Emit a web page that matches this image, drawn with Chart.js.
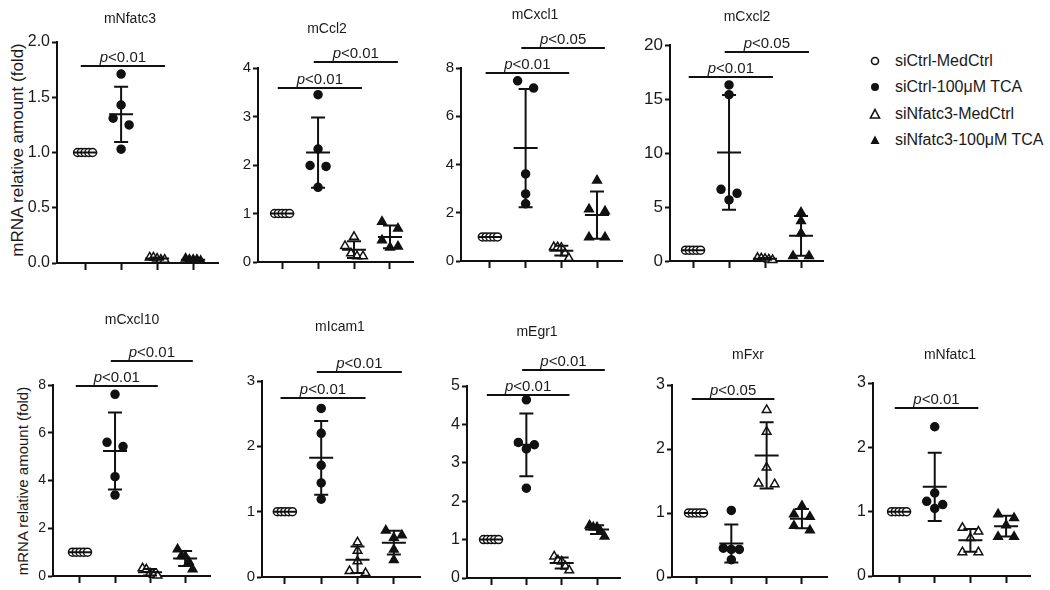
<!DOCTYPE html>
<html>
<head>
<meta charset="utf-8">
<script src="https://cdn.jsdelivr.net/npm/chart.js@4.4.1/dist/chart.umd.min.js"></script>
<style>
    body { margin: 0; background: #fff; width: 1050px; height: 590px; position: relative; overflow: hidden;
           font-family: 'Liberation Sans', Arial, sans-serif; color: #1a1a1a; }
    canvas { position: absolute; }
    .ylab { position: absolute; white-space: nowrap; transform: translate(-50%, -50%) rotate(-90deg); }
    #legend { position: absolute; left: 868px; top: 48px; font-size: 16px; }
    #legend .row { height: 26.3px; display: flex; align-items: center; }
    #legend svg { width: 14px; height: 14px; margin-right: 13px; }
</style>
</head>
<body>

<div class="ylab" style="left:18px; top:150px; font-size:17px;">mRNA relative amount (fold)</div>
<div class="ylab" style="left:22px; top:481px; font-size:15px;">mRNA relative amount (fold)</div>
<div id="legend"></div>

<script>
const FONT = "'Liberation Sans', Arial, sans-serif";

// groups and genes
const groupNames = ['siCtrl-MedCtrl', 'siCtrl-100\u03bcM TCA', 'siNfatc3-MedCtrl', 'siNfatc3-100\u03bcM TCA'];
const genes = ['mNfatc3', 'mCcl2', 'mCxcl1', 'mCxcl2', 'mCxcl10', 'mIcam1', 'mEgr1', 'mFxr', 'mNfatc1'];

// per gene: 5 replicates for each of the 4 groups (fold vs siCtrl-MedCtrl)
const mNfatc3 = [[1, 1, 1, 1, 1], [1.71, 1.43, 1.31, 1.25, 1.03], [0.05, 0.05, 0.04, 0.03, 0.03], [0.04, 0.03, 0.03, 0.03, 0.02]];
const mCcl2   = [[1, 1, 1, 1, 1], [3.45, 2.33, 1.99, 1.97, 1.54], [0.52, 0.33, 0.18, 0.12, 0.12], [0.83, 0.69, 0.45, 0.30, 0.32]];
const mCxcl1  = [[1, 1, 1, 1, 1], [7.47, 7.17, 3.61, 2.78, 2.37], [0.58, 0.57, 0.55, 0.32, 0.12], [3.34, 2.15, 2.06, 0.98, 0.98]];
const mCxcl2  = [[1, 1, 1, 1, 1], [16.3, 15.4, 6.64, 6.27, 5.65], [0.30, 0.25, 0.20, 0.15, 0.10], [4.48, 3.70, 2.56, 0.46, 0.46]];
const mCxcl10 = [[1, 1, 1, 1, 1], [7.61, 5.60, 5.42, 4.16, 3.39], [0.32, 0.28, 0.12, 0.05, 0.02], [1.12, 0.84, 0.84, 0.60, 0.28]];
const mIcam1  = [[1, 1, 1, 1, 1], [2.58, 2.20, 1.71, 1.44, 1.19], [0.53, 0.40, 0.24, 0.06, 0.09], [0.71, 0.64, 0.60, 0.42, 0.26]];
const mEgr1   = [[1, 1, 1, 1, 1], [4.64, 3.53, 3.47, 3.36, 2.34], [0.56, 0.46, 0.43, 0.30, 0.20], [1.37, 1.32, 1.32, 1.21, 1.08]];
const mFxr    = [[1, 1, 1, 1, 1], [1.04, 0.45, 0.43, 0.43, 0.27], [2.61, 2.27, 1.71, 1.45, 1.46], [1.11, 0.98, 0.94, 0.80, 0.73]];
const mNfatc1 = [[1, 1, 1, 1, 1], [2.32, 1.29, 1.16, 1.11, 1.05], [0.75, 0.69, 0.59, 0.37, 0.37], [0.96, 0.90, 0.79, 0.61, 0.61]];
const geneData = [mNfatc3, mCcl2, mCxcl1, mCxcl2, mCxcl10, mIcam1, mEgr1, mFxr, mNfatc1];

// y axes
const yMaxes = [2, 4, 8, 20, 8, 3, 5, 3, 3];
const yStepSizes = [0.5, 1, 2, 5, 2, 1, 1, 1, 1];

// significance brackets: [from group, to group, height, label]
const brackets = [
    [[1, 3, 1.78, 'p<0.01']],
    [[1, 3, 3.59, 'p<0.01'], [2, 4, 4.12, 'p<0.01']],
    [[1, 3, 7.80, 'p<0.01'], [2, 4, 8.84, 'p<0.05']],
    [[1, 3, 17.0, 'p<0.01'], [2, 4, 19.35, 'p<0.05']],
    [[1, 3, 7.95, 'p<0.01'], [2, 4, 9.0, 'p<0.01']],
    [[1, 3, 2.74, 'p<0.01'], [2, 4, 3.14, 'p<0.01']],
    [[1, 3, 4.77, 'p<0.01'], [2, 4, 5.42, 'p<0.01']],
    [[1, 3, 2.78, 'p<0.05']],
    [[1, 3, 2.61, 'p<0.01']]
];

// page boxes of each plot area (axis x, axis end, top tick, zero line), x range, title pos, tick font
const frames = [
    { l: 57,  r: 218,  t: 42,  b: 263, x0: 0.22, x1: 4.69, tx: 130, ty: 19,  fs: 16, top: 0 },
    { l: 258, r: 413,  t: 68,  b: 262, x0: 0.33, x1: 4.64, tx: 327, ty: 29,  fs: 15, top: 0 },
    { l: 461, r: 622,  t: 68,  b: 261, x0: 0.19, x1: 4.70, tx: 535, ty: 15,  fs: 15, top: 0 },
    { l: 670, r: 823,  t: 45,  b: 261, x0: 0.36, x1: 4.61, tx: 747, ty: 17,  fs: 17, top: 0 },
    { l: 53,  r: 210,  t: 385, b: 576, x0: 0.23, x1: 4.71, tx: 132, ty: 320, fs: 14, top: 300 },
    { l: 262, r: 420,  t: 381, b: 577, x0: 0.37, x1: 4.72, tx: 340, ty: 327, fs: 15, top: 300 },
    { l: 467, r: 620,  t: 386, b: 578, x0: 0.32, x1: 4.65, tx: 537, ty: 332, fs: 16, top: 300 },
    { l: 672, r: 827,  t: 385, b: 577, x0: 0.32, x1: 4.71, tx: 748, ty: 355, fs: 16, top: 300 },
    { l: 873, r: 1030, t: 383, b: 576, x0: 0.27, x1: 4.67, tx: 950, ty: 355, fs: 16, top: 300 }
];

const Y_W = 45, X_H = 14, PAD_R = 8;

function mean(a) { return a.reduce((s, v) => s + v, 0) / a.length; }
function stdev(a) {
    const m = mean(a);
    return Math.sqrt(a.reduce((s, v) => s + (v - m) * (v - m), 0) / (a.length - 1));
}

// prism-like horizontal spread of points that sit close together (pixel offsets)
const SPREAD = { 1: [0], 2: [-8, 8], 3: [-8, 8, 0], 4: [-9, -3, 3, 9], 5: [-7.5, -3.75, 0, 3.75, 7.5] };
function swarm(vals, pxPerY) {
    const order = vals.map((v, i) => i).sort((a, b) => vals[b] - vals[a]);
    const offs = new Array(vals.length).fill(0);
    let cluster = [order[0]];
    const flush = () => {
        const s = SPREAD[cluster.length];
        cluster.forEach((idx, k) => { offs[idx] = s[k]; });
    };
    for (let k = 1; k < order.length; k++) {
        const prev = order[k - 1], cur = order[k];
        if ((vals[prev] - vals[cur]) * pxPerY < 8) cluster.push(cur);
        else { flush(); cluster = [cur]; }
    }
    flush();
    return offs;
}

function makeDecor(i) {
    const f = frames[i];
    return {
        id: 'decor' + i,
        afterDatasetsDraw(chart) {
            const { ctx, scales: { x, y } } = chart;
            ctx.save();
            ctx.strokeStyle = '#111';
            ctx.fillStyle = '#1a1a1a';
            ctx.lineWidth = 2;

            // mean +/- SD
            geneData[i].forEach((vals, gi) => {
                const m = mean(vals), sd = stdev(vals);
                const cx = x.getPixelForValue(gi + 1);
                const yM = y.getPixelForValue(m), yHi = y.getPixelForValue(m + sd), yLo = y.getPixelForValue(m - sd);
                ctx.beginPath();
                ctx.moveTo(cx, yHi); ctx.lineTo(cx, yLo);
                ctx.moveTo(cx - 7, yHi); ctx.lineTo(cx + 7, yHi);
                ctx.moveTo(cx - 7, yLo); ctx.lineTo(cx + 7, yLo);
                ctx.moveTo(cx - 12, yM); ctx.lineTo(cx + 12, yM);
                ctx.stroke();
            });

            // brackets with p values
            ctx.textAlign = 'left';
            ctx.textBaseline = 'alphabetic';
            brackets[i].forEach(([g1, g2, h, lab]) => {
                const xa = x.getPixelForValue(g1 - 0.12), xb = x.getPixelForValue(g2 + 0.22);
                const yy = Math.round(y.getPixelForValue(h));
                ctx.beginPath();
                ctx.moveTo(xa, yy); ctx.lineTo(xb, yy);
                ctx.stroke();
                ctx.font = 'italic 15px ' + FONT;
                const wp = ctx.measureText(lab[0]).width;
                ctx.font = '15px ' + FONT;
                const wr = ctx.measureText(lab.slice(1)).width;
                const sx = (xa + xb) / 2 - (wp + wr) / 2;
                ctx.font = 'italic 15px ' + FONT;
                ctx.fillText(lab[0], sx, yy - 4);
                ctx.font = '15px ' + FONT;
                ctx.fillText(lab.slice(1), sx + wp, yy - 4);
            });

            // panel title
            ctx.font = '14px ' + FONT;
            ctx.textAlign = 'center';
            ctx.textBaseline = 'middle';
            ctx.fillText(genes[i], f.tx - (f.l - Y_W), f.ty - f.top);
            ctx.restore();
        }
    };
}

genes.forEach((gene, i) => {
    const f = frames[i];
    const cv = document.createElement('canvas');
    const padTop = f.t - f.top;
    cv.width = Y_W + (f.r - f.l) + PAD_R;
    cv.height = padTop + (f.b - f.t) + X_H;
    cv.style.left = (f.l - Y_W) + 'px';
    cv.style.top = f.top + 'px';
    document.body.appendChild(cv);

    const pxPerX = (f.r - f.l) / (f.x1 - f.x0);
    const pxPerY = (f.b - f.t) / yMaxes[i];

    const datasets = geneData[i].map((vals, gi) => {
        const offs = swarm(vals, pxPerY);
        return {
            label: groupNames[gi],
            data: vals.map((v, k) => ({ x: gi + 1 + offs[k] / pxPerX, y: v })),
            pointStyle: gi < 2 ? 'circle' : 'triangle',
            pointRadius: gi < 2 ? 4 : 5,
            pointHoverRadius: gi < 2 ? 4 : 5,
            backgroundColor: gi % 2 === 0 ? '#fff' : '#111',
            borderColor: '#111',
            borderWidth: 1.5,
            clip: false
        };
    });

    new Chart(cv, {
        type: 'scatter',
        data: { datasets },
        options: {
            responsive: false,
            animation: false,
            events: [],
            layout: { padding: { top: padTop, right: PAD_R, left: 0, bottom: 0 } },
            plugins: { legend: { display: false }, tooltip: { enabled: false } },
            scales: {
                x: {
                    type: 'linear',
                    min: f.x0,
                    max: f.x1,
                    afterBuildTicks: s => { s.ticks = [1, 2, 3, 4].map(v => ({ value: v })); },
                    afterFit: s => { s.height = X_H; },
                    ticks: { display: false },
                    grid: { drawOnChartArea: false, tickLength: 7, tickWidth: 2, color: '#111' },
                    border: { color: '#111', width: 2 }
                },
                y: {
                    min: 0,
                    max: yMaxes[i],
                    afterFit: s => { s.width = Y_W; },
                    ticks: {
                        stepSize: yStepSizes[i],
                        color: '#1a1a1a',
                        padding: 2,
                        font: { size: f.fs, family: FONT },
                        callback: v => i === 0 ? v.toFixed(1) : v
                    },
                    grid: { drawOnChartArea: false, tickLength: 5, tickWidth: 2, color: '#111' },
                    border: { color: '#111', width: 2 }
                }
            }
        },
        plugins: [makeDecor(i)]
    });
});

// legend
const legendMarks = [
    '<circle cx="7" cy="7" r="3.5" fill="#fff" stroke="#111" stroke-width="1.6"/>',
    '<circle cx="7" cy="7" r="4" fill="#111"/>',
    '<polygon points="7,2.5 11.5,11 2.5,11" fill="#fff" stroke="#111" stroke-width="1.6"/>',
    '<polygon points="7,2.5 11.5,11 2.5,11" fill="#111"/>'
];
const legend = document.getElementById('legend');
groupNames.forEach((name, gi) => {
    const row = document.createElement('div');
    row.className = 'row';
    row.innerHTML = `<svg viewBox="0 0 14 14">${legendMarks[gi]}</svg><span>${name}</span>`;
    legend.appendChild(row);
});
</script>
</body>
</html>
